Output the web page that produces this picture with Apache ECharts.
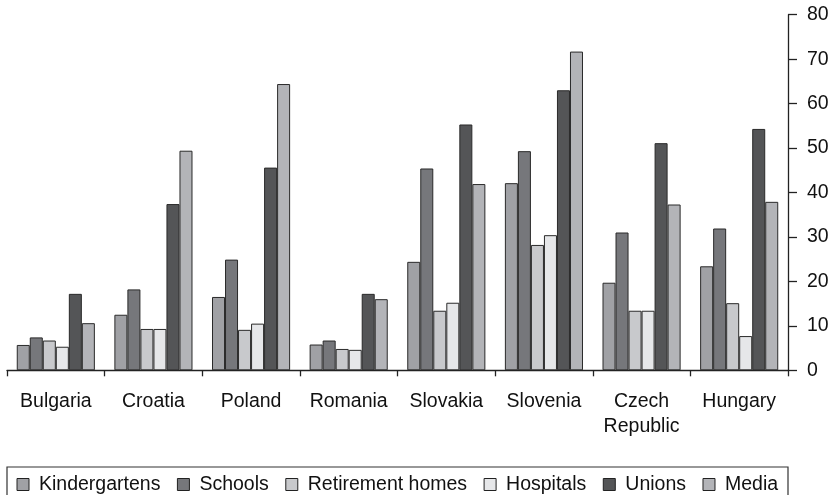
<!DOCTYPE html>
<html><head><meta charset="utf-8">
<script src="https://cdn.jsdelivr.net/npm/echarts@6/dist/echarts.min.js"></script>
<style>html,body{margin:0;padding:0;background:#fff}#c{width:833px;height:495px}</style>
</head><body><div id="c"></div>
<script>
const categories = ['Bulgaria','Croatia','Poland','Romania','Slovakia','Slovenia','Czech\nRepublic','Hungary'];
const seriesNames = ['Kindergartens','Schools','Retirement homes','Hospitals','Unions','Media'];
const kindergartens = [5.7, 12.5, 16.5, 5.8, 24.4, 42.1, 19.7, 23.4];
const schools = [7.4, 18.2, 24.9, 6.7, 45.4, 49.3, 31.0, 31.9];
const retirementHomes = [6.7, 9.3, 9.1, 4.8, 13.4, 28.2, 13.4, 15.1];
const hospitals = [5.3, 9.3, 10.5, 4.6, 15.2, 30.4, 13.4, 7.7];
const unions = [17.2, 37.4, 45.6, 17.2, 55.3, 63.0, 51.1, 54.3];
const media = [10.6, 49.4, 64.4, 16.0, 41.9, 71.7, 37.3, 37.9];
const yTicks = [0, 80, 10];

const colors = ['#a0a1a5','#76777b','#c8c9cc','#e6e7e9','#545557','#b3b4b8'];
const data = [kindergartens, schools, retirementHomes, hospitals, unions, media];
const font = '"Liberation Sans", Arial, Helvetica, sans-serif';
const chart = echarts.init(document.getElementById('c'), null, {renderer:'canvas'});
chart.setOption({
  animation: false,
  color: colors,
  grid: {left: 7, right: 45, top: 14.7, bottom: 124.7, containLabel: false},
  legend: {
    left: 16.5, top: 474.5, padding: [0,0,0,0],
    itemWidth: 12, itemHeight: 12, itemGap: 16.5,
    icon: 'rect',
    itemStyle: {borderColor: '#222', borderWidth: 1},
    textStyle: {fontFamily: font, fontSize: 19.5, color: '#111', padding: [0,0,0,5]},
    data: seriesNames
  },
  graphic: [{type:'rect', shape:{x:7, y:467, width:781, height:40}, style:{fill:'none', stroke:'#333', lineWidth:1.2}, z: 10}],
  xAxis: {
    type: 'category', data: categories,
    axisLine: {show: true, lineStyle: {color: '#222', width: 1.3}},
    axisTick: {show: true, length: 6, lineStyle: {color: '#222', width: 1.3}},
    axisLabel: {fontFamily: font, fontSize: 19.5, color: '#111', margin: 19, lineHeight: 25, interval: 0},
    splitLine: {show: false}
  },
  yAxis: {
    type: 'value', position: 'right', min: yTicks[0], max: yTicks[1], interval: yTicks[2],
    axisLine: {show: true, lineStyle: {color: '#222', width: 1.3}},
    axisTick: {show: true, inside: false, length: 9, lineStyle: {color: '#222', width: 1.3}},
    axisLabel: {fontFamily: font, fontSize: 19.5, color: '#111', margin: 19},
    splitLine: {show: false}
  },
  series: seriesNames.map((n, i) => ({
    name: n, type: 'bar', data: data[i],
    barGap: '0%', barCategoryGap: '20%',
    itemStyle: {color: colors[i], borderColor: '#2a2a2a', borderWidth: 1}
  }))
});
</script></body></html>
